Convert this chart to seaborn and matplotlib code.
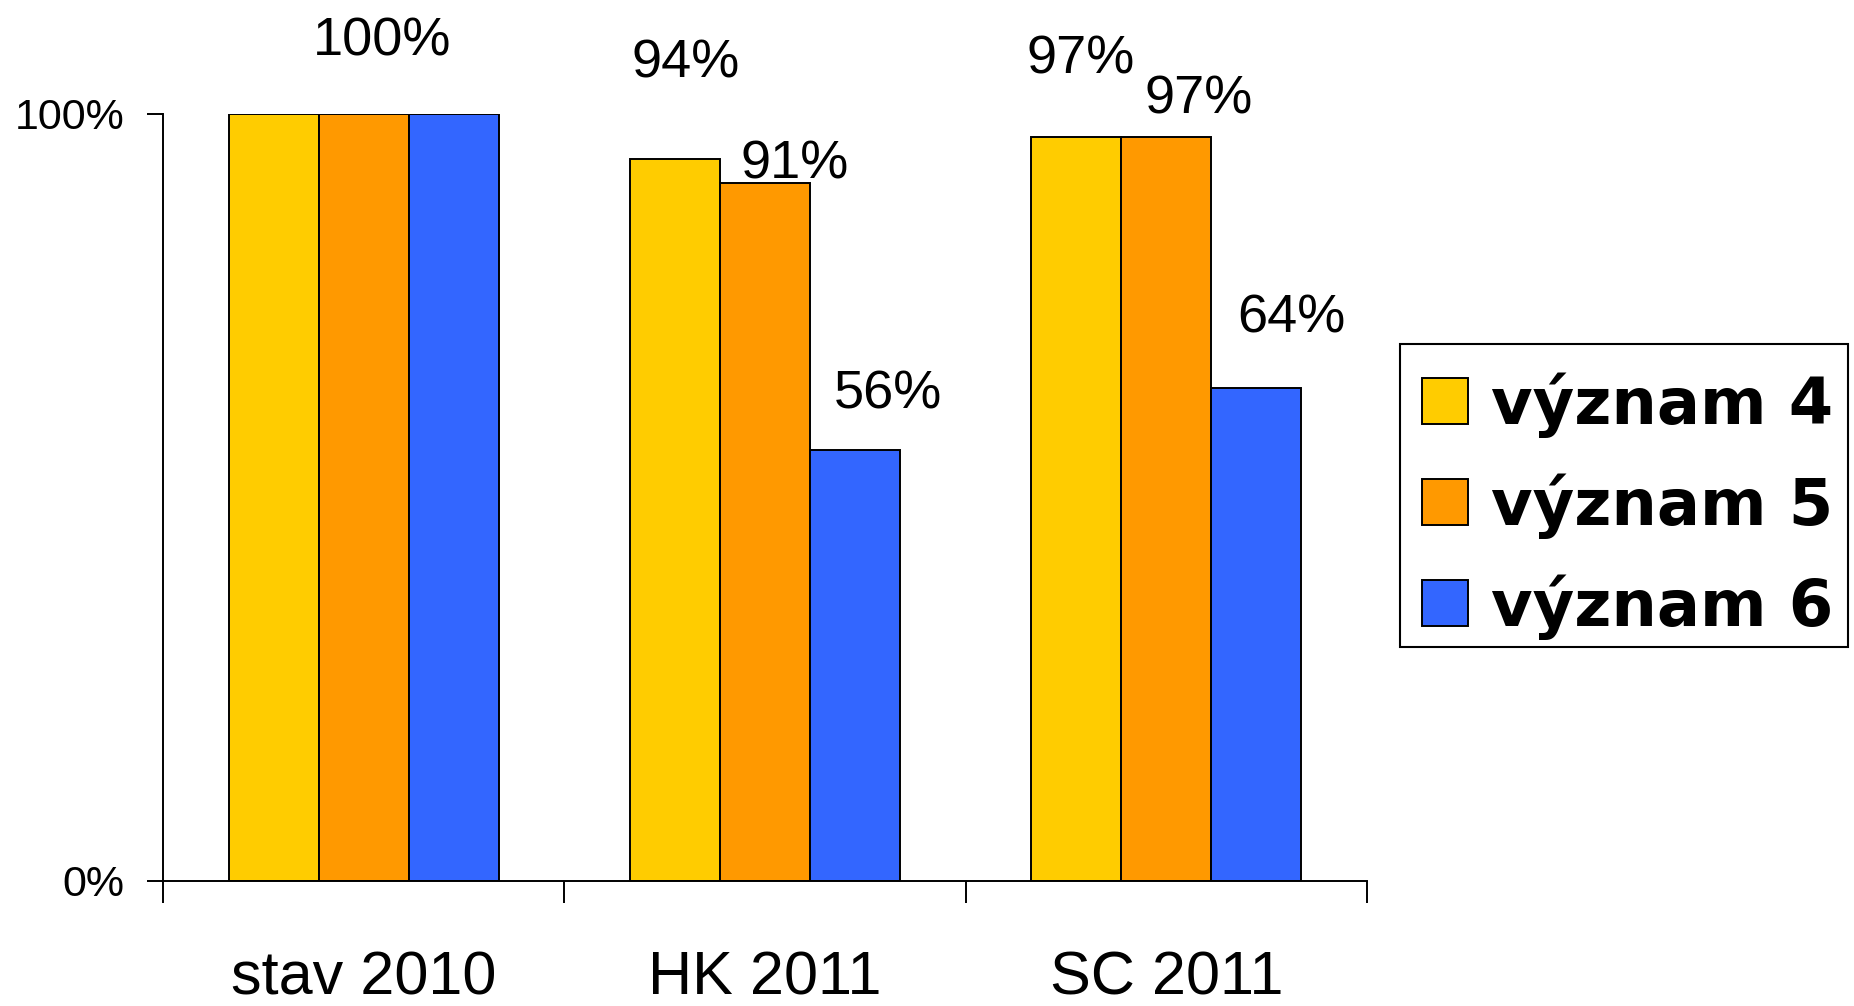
import matplotlib
matplotlib.use('Agg')
import matplotlib.pyplot as plt
from matplotlib.patches import Patch, Rectangle
import seaborn as sns
import pandas as pd

# ---- data ----
categories = ['stav 2010', 'HK 2011', 'SC 2011']
series_names = ['význam 4', 'význam 5', 'význam 6']
vyznam4 = [1.00, 0.941, 0.969]
vyznam5 = [1.00, 0.909, 0.969]
vyznam6 = [1.00, 0.561, 0.642]
y_ticks = [0.0, 1.0]
y_tick_labels = ['0%', '100%']
# which bars show a value label, [series][category]
show_label = [[False, True, True],
              [True, True, True],
              [False, True, True]]

# ---- style ----
colors = ['#FFCC00', '#FF9900', '#3366FF']
# label offsets (pixels) of text baseline centre from bar top centre
label_offsets = {(0, 1): (11, 81), (0, 2): (4, 64),
                 (1, 0): (18, 58), (1, 1): (30, 5), (1, 2): (32, 24),
                 (2, 1): (33, 42), (2, 2): (35, 56)}

plt.rcParams['font.family'] = ['Liberation Sans', 'DejaVu Sans']

all_values = [vyznam4, vyznam5, vyznam6]
rows = []
for s, vals in zip(series_names, all_values):
    for c, v in zip(categories, vals):
        rows.append({'category': c, 'series': s, 'value': v})
df = pd.DataFrame(rows)

W, H = 1854, 1006
fig = plt.figure(figsize=(W / 100, H / 100), dpi=100)
x0, x1 = 163, 1367
y0, y1 = 881, 113.5
ax = fig.add_axes([x0 / W, 1 - y0 / H, (x1 - x0) / W, (y0 - y1) / H])

sns.barplot(data=df, x='category', y='value', hue='series', order=categories,
            hue_order=series_names, palette=colors, saturation=1, width=0.673,
            gap=0, edgecolor='black', linewidth=1.4, errorbar=None, ax=ax,
            legend=False)

ax.set_xlim(-0.5, len(categories) - 0.5)
ax.set_ylim(0, 1)
ax.set_xlabel('')
ax.set_ylabel('')
for sp in ['top', 'right']:
    ax.spines[sp].set_visible(False)
for sp in ['left', 'bottom']:
    ax.spines[sp].set_linewidth(1.4)
    ax.spines[sp].set_color('black')

ax.set_xticks(range(len(categories)), categories)
ax.set_xticks([i - 0.5 for i in range(len(categories) + 1)], minor=True)
ax.tick_params(axis='x', which='major', length=0, pad=50, labelsize=44)
ax.tick_params(axis='x', which='minor', length=16, width=1.4, direction='out')
ax.set_yticks(y_ticks, y_tick_labels)
ax.tick_params(axis='y', length=11.5, width=1.4, pad=16, labelsize=31)

for i, cont in enumerate(ax.containers):
    for j, bar in enumerate(cont):
        if not show_label[i][j]:
            continue
        v = all_values[i][j]
        ax.annotate(f'{v * 100:.0f}%',
                    xy=(bar.get_x() + bar.get_width() / 2, bar.get_height()),
                    xytext=label_offsets[(i, j)], textcoords='offset pixels',
                    ha='center', va='baseline', fontsize=39,
                    annotation_clip=False)

handles = [Patch(facecolor=c, edgecolor='black', linewidth=1.4) for c in colors]
leg = ax.legend(handles, series_names, loc='upper left',
                bbox_to_anchor=(1403 / W, 1 - 353 / H),
                bbox_transform=fig.transFigure,
                prop=dict(family='DejaVu Sans', weight='bold', size=46),
                frameon=False,
                handlelength=0.72, handleheight=0.73, handletextpad=0.36,
                labelspacing=0.555, borderpad=0.3, borderaxespad=0)

# legend box
fig.patches.append(Rectangle((1400 / W, 1 - 647 / H), 448 / W, 303 / H,
                             transform=fig.transFigure, fill=False,
                             edgecolor='black', linewidth=1.5, zorder=5))

fig.savefig('out.png', dpi=100)
